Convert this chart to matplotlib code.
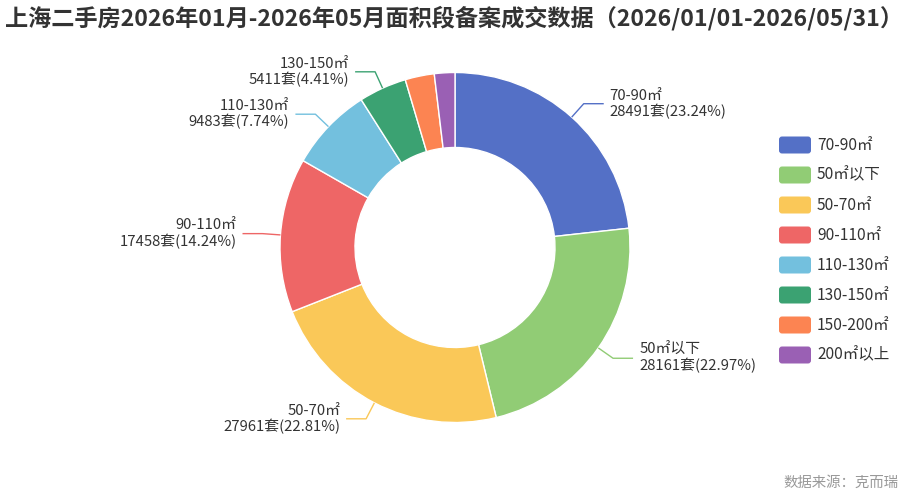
import numpy as np
import matplotlib
matplotlib.use("Agg")
import matplotlib.pyplot as plt
from matplotlib.patches import FancyBboxPatch

plt.rcParams['font.family'] = ['Noto Sans CJK SC', 'DejaVu Sans']

# ---- data ----
categories = ['70-90㎡', '50㎡以下', '50-70㎡', '90-110㎡', '110-130㎡', '130-150㎡', '150-200㎡', '200㎡以上']
counts = [28491, 28161, 27961, 17458, 9483, 5411, 3300, 2320]
pct_labels = ['23.24%', '22.97%', '22.81%', '14.24%', '7.74%', '4.41%', None, None]
colors = ['#5470c6', '#91cc75', '#fac858', '#ee6666', '#73c0de', '#3ba272', '#fc8452', '#9a60b4']
title = '上海二手房2026年01月-2026年05月面积段备案成交数据（2026/01/01-2026/05/31）'
source = '数据来源：克而瑞'

W, H = 910, 500
fig = plt.figure(figsize=(W / 100, H / 100), dpi=100)
ax = fig.add_axes([0, 0, 1, 1])

cx, cy = 455, H - 247.5
R, r_in = 175, 100

ax.pie(counts, colors=colors, startangle=90, counterclock=False,
       center=(cx, cy), radius=R, frame=True,
       wedgeprops=dict(width=R - r_in, edgecolor='white', linewidth=1))
ax.set_xlim(0, W)
ax.set_ylim(0, H)
ax.axis('off')

total = sum(counts)
cum = 0
for cat, c, p, col in zip(categories, counts, pct_labels, colors):
    frac = c / total
    mid = cum + frac / 2
    cum += frac
    if p is None:
        continue
    th = np.deg2rad(90 - 360 * mid)
    x0, y0 = cx + R * np.cos(th), cy + R * np.sin(th)
    x1, y1 = cx + (R + 18) * np.cos(th), cy + (R + 18) * np.sin(th)
    right = np.cos(th) >= 0
    x2 = x1 + (20 if right else -20)
    ax.plot([x0, x1, x2], [y0, y1, y1], color=col, lw=1, solid_capstyle='butt')
    tx = x2 + (6 if right else -6)
    ax.text(tx, y1, f'{cat}\n{c}套({p})', ha='left' if right else 'right',
            va='center', fontsize=10.7, color='#333333', linespacing=1.08,
            multialignment='left' if right else 'right')

# legend
lx, ly0, dy = 779, H - 145, 30
for i, (cat, col) in enumerate(zip(categories, colors)):
    y = ly0 - i * dy
    ax.add_patch(FancyBboxPatch((lx + 3, y - 5.5), 26, 11,
                                boxstyle='round,pad=3', fc=col, ec='none'))
    ax.text(817, y, cat, ha='left', va='center', fontsize=11.2, color='#333333')

fig.text(5 / W, 1 - 18 / H, title, ha='left', va='center', fontsize=16.7,
         fontweight='bold', color='#333333')
fig.text(898 / W, 1 - 483 / H, source, ha='right', va='center', fontsize=10.4,
         color='#999999')

fig.savefig('out.png', dpi=100)
